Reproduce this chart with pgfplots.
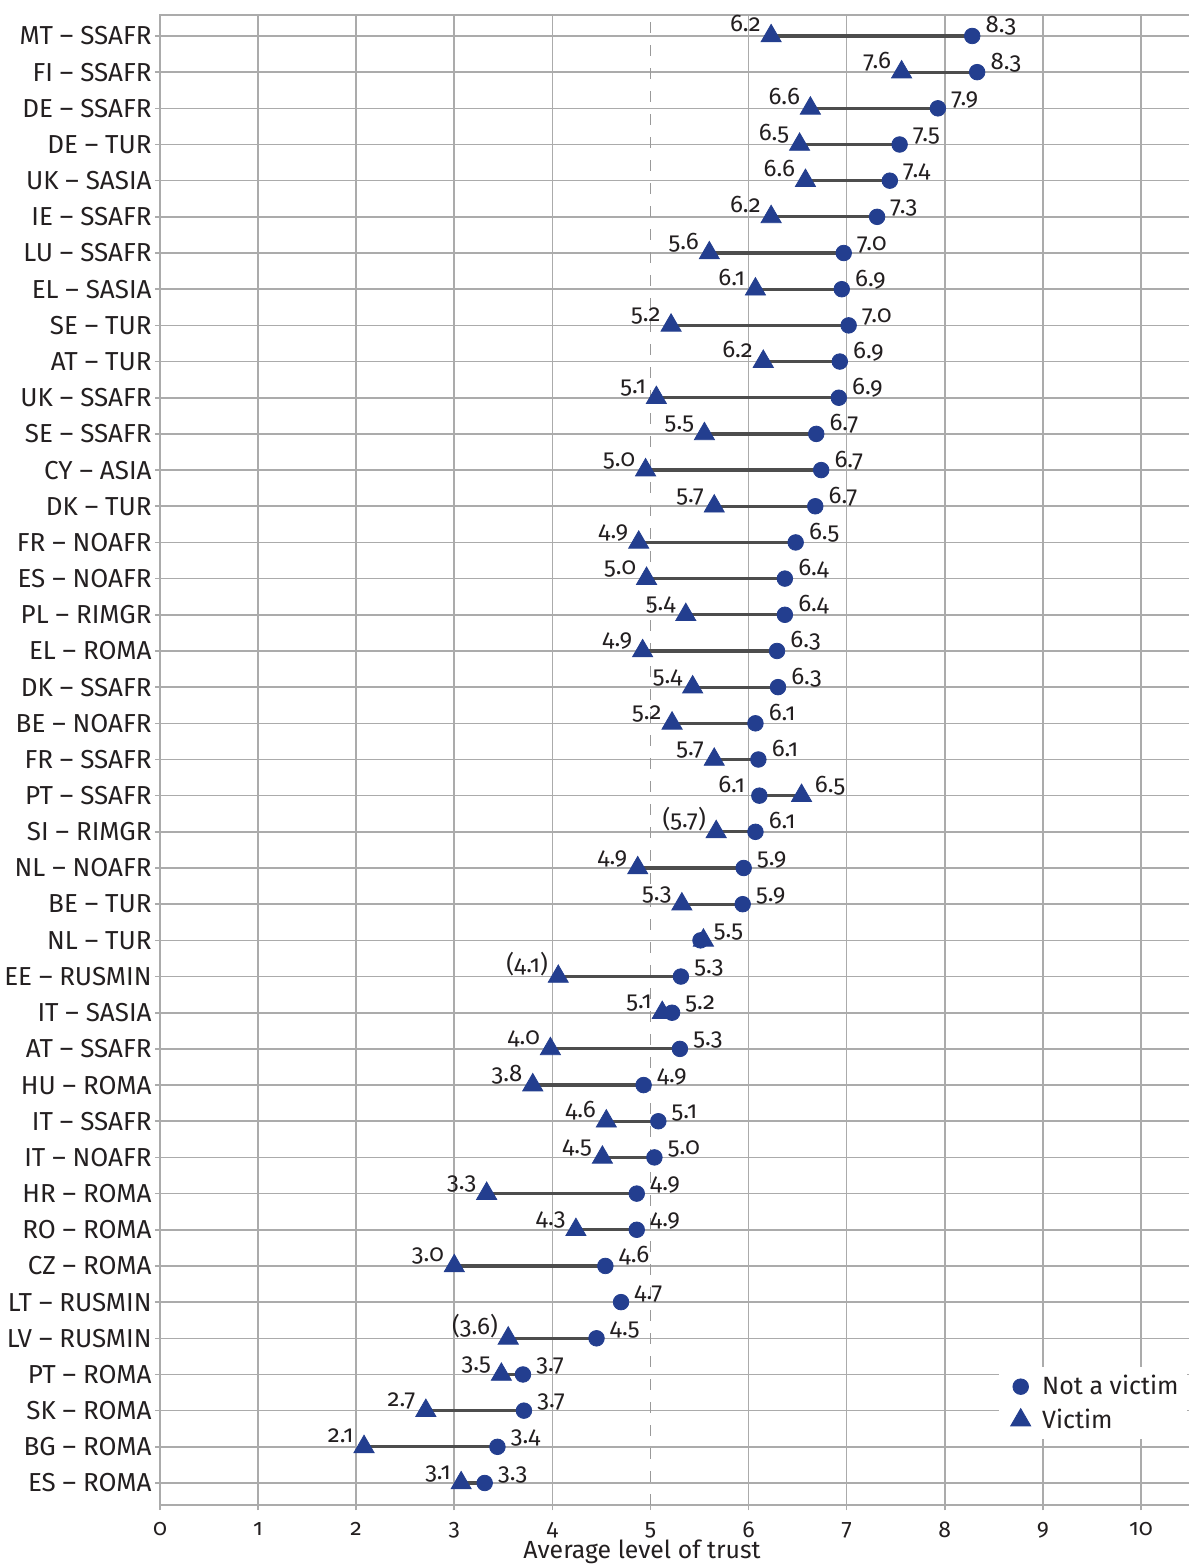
\documentclass[border=0pt]{standalone}
\usepackage{pgfplots}
\pgfplotsset{compat=1.18}
\usepackage{pgfplotstable}
\usepackage{fontspec}
\setmainfont{Fira Sans}[Numbers=OldStyle]
\definecolor{mblue}{HTML}{233E8F}
\definecolor{gridc}{HTML}{ABABAB}
\definecolor{conn}{HTML}{4D4D4D}
\definecolor{dashc}{HTML}{999999}
\definecolor{txt}{HTML}{231F20}
\pgfplotsset{wideleg/.style={legend image code/.code={\path (0cm,0cm) (0.6cm,0cm); \draw[mark repeat=2,mark phase=2,##1] plot coordinates {(0cm,0cm) (0.3cm,0cm) (0.6cm,0cm)};}}}

\pgfplotstableread{
y v nv vl nvl
41 6.23 8.28 6.2 8.3
40 7.56 8.33 7.6 8.3
39 6.63 7.93 6.6 7.9
38 6.52 7.54 6.5 7.5
37 6.58 7.44 6.6 7.4
36 6.23 7.31 6.2 7.3
35 5.60 6.97 5.6 7.0
34 6.07 6.95 6.1 6.9
33 5.21 7.02 5.2 7.0
32 6.15 6.93 6.2 6.9
31 5.06 6.92 5.1 6.9
30 5.55 6.69 5.5 6.7
29 4.95 6.74 5.0 6.7
28 5.65 6.68 5.7 6.7
27 4.88 6.48 4.9 6.5
26 4.96 6.37 5.0 6.4
25 5.36 6.37 5.4 6.4
24 4.92 6.29 4.9 6.3
23 5.43 6.30 5.4 6.3
22 5.22 6.07 5.2 6.1
21 5.65 6.10 5.7 6.1
20 6.54 6.11 {} {}
19 5.67 6.07 (5.7) 6.1
18 4.87 5.95 4.9 5.9
17 5.32 5.94 5.3 5.9
16 5.54 5.51 {} 5.5
15 4.06 5.31 (4.1) 5.3
14 5.12 5.22 5.1 5.2
13 3.98 5.30 4.0 5.3
12 3.80 4.93 3.8 4.9
11 4.55 5.08 4.6 5.1
10 4.51 5.04 4.5 5.0
9 3.33 4.86 3.3 4.9
8 4.24 4.86 4.3 4.9
7 3.00 4.54 3.0 4.6
6 nan 4.70 {} 4.7
5 3.55 4.45 (3.6) 4.5
4 3.48 3.70 3.5 3.7
3 2.71 3.71 2.7 3.7
2 2.08 3.44 2.1 3.4
1 3.07 3.31 3.1 3.3
}\data

\begin{document}
\begin{tikzpicture}
\useasboundingbox (-80pt,-30pt) rectangle (514.5pt,752.5pt);
\begin{axis}[
  scale only axis,
  width=515pt, height=745pt,
  xmin=0, xmax=10.5,
  ymin=0.392, ymax=41.58,
  axis line style={gridc, line width=0.8pt},
  tick align=outside,
  tick pos=left,
  major tick length=2.5pt,
  tick style={gridc, line width=0.8pt},
  xtick={0,...,10},
  extra x ticks={1,2,3,4,6,7,8,9,10},
  extra x tick labels={},
  extra x tick style={grid=major},
  ytick={1,...,41},
  ymajorgrids=true,
  grid style={gridc, line width=0.8pt},
  yticklabels={ES – ROMA, BG – ROMA, SK – ROMA, PT – ROMA, LV – RUSMIN, LT – RUSMIN, CZ – ROMA, RO – ROMA, HR – ROMA, IT – NOAFR, IT – SSAFR, HU – ROMA, AT – SSAFR, IT – SASIA, EE – RUSMIN, NL – TUR, BE – TUR, NL – NOAFR, SI – RIMGR, PT – SSAFR, FR – SSAFR, BE – NOAFR, DK – SSAFR, EL – ROMA, PL – RIMGR, ES – NOAFR, FR – NOAFR, DK – TUR, CY – ASIA, SE – SSAFR, UK – SSAFR, AT – TUR, SE – TUR, EL – SASIA, LU – SSAFR, IE – SSAFR, UK – SASIA, DE – TUR, DE – SSAFR, FI – SSAFR, MT – SSAFR},
  yticklabel style={font=\fontsize{13}{13}\selectfont, text=txt, inner sep=0pt, xshift=-1.5pt},
  xticklabel style={font=\fontsize{11.5}{11.5}\selectfont, text=txt, yshift=-2.5pt},
  /pgf/number format/assume math mode=true,
  xlabel={Average level of trust},
  xlabel style={at={(rel axis cs:0.468,0)}, anchor=base, yshift=-27pt, font=\fontsize{12.4}{12.4}\selectfont, text=txt, inner sep=0pt},
  legend style={at={(rel axis cs:0.8144,0.0926)}, anchor=north west, draw=none, fill=white, font=\fontsize{12.5}{15}\selectfont, text=txt, legend cell align=left, row sep=1.5pt, inner xsep=2pt},
  clip=false,
]
\draw[dashc, line width=0.8pt, dash pattern=on 5.5pt off 6pt] (axis cs:5,0.392) -- (axis cs:5,41.58);
\addplot[forget plot, only marks, mark=none,
  error bars/.cd, x dir=plus, x explicit, error mark=none,
  error bar style={draw=conn, solid, line width=1.6pt}]
  table[x=v, y=y, x error expr=\thisrow{nv}-\thisrow{v}] {\data};
\addplot[only marks, mark=*, mark size=3.9pt, mblue, wideleg,
  nodes near coords, point meta=explicit symbolic,
  every node near coord/.append style={anchor=base west, xshift=6.5pt, yshift=1.5pt, inner sep=0pt, text=txt, font=\fontsize{12}{12}\selectfont}]
  table[x=nv, y=y, meta=nvl] {\data};
\addlegendentry{Not a victim}
\addplot[only marks, mark=triangle*, mark size=5.8pt, mblue, wideleg,
  nodes near coords, point meta=explicit symbolic,
  every node near coord/.append style={anchor=base east, xshift=-5pt, yshift=2pt, inner sep=0pt, text=txt, font=\fontsize{12}{12}\selectfont}]
  table[x=v, y=y, meta=vl] {\data};
\addlegendentry{Victim}
\addplot[forget plot, draw=none, mark=none,
  nodes near coords, point meta=explicit symbolic,
  every node near coord/.append style={anchor=base east, xshift=-7pt, yshift=1.5pt, inner sep=0pt, text=txt, font=\fontsize{12}{12}\selectfont}]
  coordinates {(6.11,20) [6.1]};
\addplot[forget plot, draw=none, mark=none,
  nodes near coords, point meta=explicit symbolic,
  every node near coord/.append style={anchor=base west, xshift=6.5pt, yshift=1.5pt, inner sep=0pt, text=txt, font=\fontsize{12}{12}\selectfont}]
  coordinates {(6.54,20) [6.5]};
\end{axis}
\end{tikzpicture}
\end{document}
